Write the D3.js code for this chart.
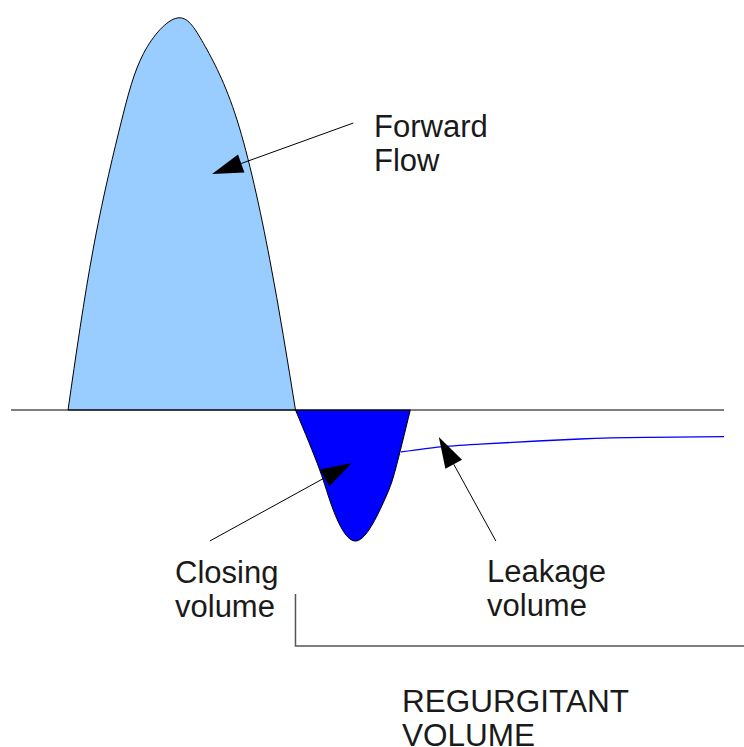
<!DOCTYPE html>
<html>
<head>
<meta charset="utf-8">
<script src="https://cdn.jsdelivr.net/npm/d3@7"></script>
<style>
  html, body { margin: 0; padding: 0; background: #ffffff; }
  svg { display: block; }
</style>
</head>
<body>
<svg id="flow-chart" width="744" height="747"></svg>
<script>
// time (arbitrary units) and flow (% of peak)
const forwardTime = [8.0, 11.5, 15.3, 18.6, 23.3, 27.0, 31.7, 36.3, 39.9];
const forwardFlow = [0, 40.8, 72.3, 91.0, 100, 93.5, 74.0, 38.3, 0];

const closingTime = [39.9, 43.3, 45.2, 48.5, 52.2, 53.9, 56];
const closingFlow = [0, -15.3, -25.5, -33.4, -23.7, -15.3, 0];

const leakTime = [54.7, 60.2, 65.8, 79.8, 89.6, 100];
const leakFlow = [-10.7, -9.4, -8.7, -7.4, -7.0, -6.8];

// annotation arrows: [from time, from flow], [tip time, tip flow]
const arrowNames = ["Forward Flow", "Closing volume", "Leakage volume"];
const arrowFrom = [[48.0, 73.2], [27.9, -33.4], [68.0, -33.4]];
const arrowTip = [[28.2, 60.2], [47.8, -13.5], [60.0, -6.9]];

const labelLines = [["Forward", "Flow"], ["Closing", "volume"], ["Leakage", "volume"], ["REGURGITANT", "VOLUME"]];

const svg = d3.select("#flow-chart"),
    width = +svg.attr("width"),
    height = +svg.attr("height");

const x = d3.scaleLinear().domain([0, 100]).range([11, 724]);
const y = d3.scaleLinear().domain([0, 100]).range([410, 18]);

const line = d3.line()
    .x(d => x(d[0]))
    .y(d => y(d[1]))
    .curve(d3.curveNatural);

const fwd = forwardTime.map((t, i) => [t, forwardFlow[i]]);
const cls = closingTime.map((t, i) => [t, closingFlow[i]]);
const leak = leakTime.map((t, i) => [t, leakFlow[i]]);

// forward flow hump
svg.append("path")
    .attr("d", line(fwd) + "Z")
    .attr("fill", "#99ccff")
    .attr("stroke", "#000")
    .attr("stroke-width", 1);

// closing volume dip
svg.append("path")
    .attr("d", line(cls) + "Z")
    .attr("fill", "#0000ff")
    .attr("stroke", "#000")
    .attr("stroke-width", 1);

// zero line
svg.append("line")
    .attr("x1", x(0)).attr("x2", x(100))
    .attr("y1", y(0)).attr("y2", y(0))
    .attr("stroke", "#000")
    .attr("stroke-width", 1);

// leakage flow
svg.append("path")
    .attr("d", line(leak))
    .attr("fill", "none")
    .attr("stroke", "#0000ff")
    .attr("stroke-width", 1.3);

// arrows
arrowNames.forEach((name, i) => {
    const x1 = x(arrowFrom[i][0]), y1 = y(arrowFrom[i][1]);
    const x2 = x(arrowTip[i][0]), y2 = y(arrowTip[i][1]);
    const ang = Math.atan2(y2 - y1, x2 - x1);
    const len = 31, half = 9.5;
    const bx = x2 - len * Math.cos(ang), by = y2 - len * Math.sin(ang);
    const px = -Math.sin(ang) * half, py = Math.cos(ang) * half;
    svg.append("line")
        .attr("x1", x1).attr("y1", y1)
        .attr("x2", bx).attr("y2", by)
        .attr("stroke", "#000")
        .attr("stroke-width", 1);
    svg.append("path")
        .attr("d", `M${x2},${y2}L${bx + px},${by + py}L${bx - px},${by - py}Z`)
        .attr("fill", "#000");
});

// regurgitant bracket
svg.append("path")
    .attr("d", `M${x(39.9)},594V646H${width}`)
    .attr("fill", "none")
    .attr("stroke", "#555")
    .attr("stroke-width", 1.5);

// labels
const labelPos = [[374, 137], [175, 583], [487, 582], [402, 712]];
labelLines.forEach((lines, i) => {
    const t = svg.append("text")
        .attr("x", labelPos[i][0])
        .attr("y", labelPos[i][1])
        .style("font-family", "'Liberation Sans', Arial, sans-serif")
        .style("font-size", i === 3 ? "31.5px" : "31px")
        .style("fill", "#1a1a1a");
    lines.forEach((s, j) => {
        t.append("tspan")
            .attr("x", labelPos[i][0])
            .attr("dy", j === 0 ? 0 : 34)
            .text(s);
    });
});
</script>
</body>
</html>
